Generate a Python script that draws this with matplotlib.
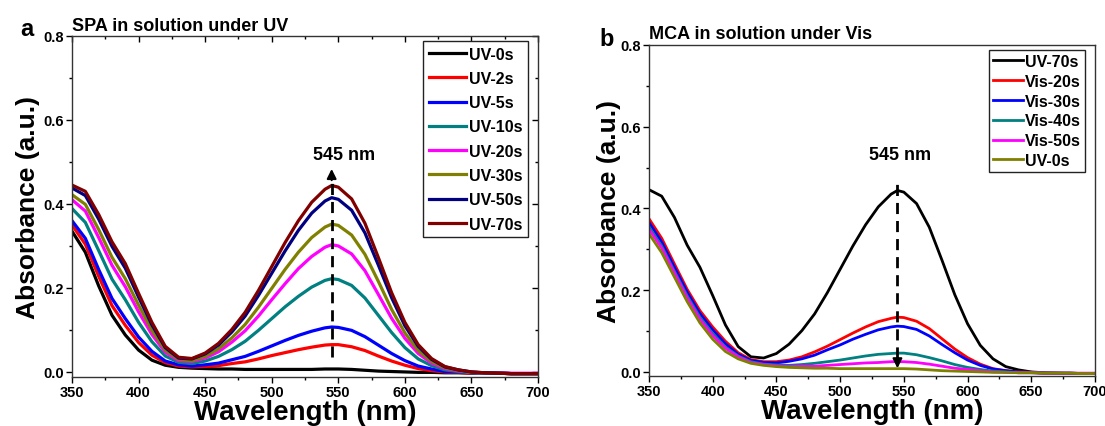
import matplotlib
matplotlib.use("Agg")
import matplotlib.pyplot as plt
from matplotlib.ticker import MultipleLocator

plt.rcParams['font.family'] = ['Liberation Sans', 'DejaVu Sans']
plt.rcParams['font.weight'] = 'bold'

# wavelength grid (nm)
wl = [350, 360, 370, 380, 390, 400, 410, 420, 430, 440, 450, 460, 470, 480, 490,
      500, 510, 520, 530, 540, 545, 550, 560, 570, 580, 590, 600, 610, 620, 630,
      640, 650, 660, 670, 680, 690, 700]

# panel a: SPA under UV
uv_0s = [.335, .285, .205, .135, .088, .052, .028, .016, .011, .009, .008, .007, .007, .006, .006,
         .006, .006, .006, .006, .007, .007, .007, .006, .004, .002, .001, .000, -.001, -.001, -.002,
         -.002, -.003, -.003, -.003, -.004, -.004, -.004]
uv_2s = [.350, .304, .228, .158, .111, .070, .040, .022, .014, .012, .013, .015, .020, .024, .031,
         .039, .046, .053, .059, .064, .065, .065, .060, .051, .038, .026, .016, .008, .003, .000,
         -.001, -.003, -.003, -.003, -.004, -.004, -.004]
uv_5s = [.360, .318, .244, .175, .127, .083, .049, .026, .017, .014, .017, .021, .029, .037, .049,
         .062, .075, .087, .097, .105, .107, .106, .099, .084, .064, .044, .027, .014, .007, .001,
         .000, -.002, -.003, -.003, -.004, -.004, -.004]
uv_10s = [.389, .356, .289, .221, .172, .118, .072, .038, .023, .020, .026, .037, .053, .073, .099,
          .127, .155, .180, .202, .218, .222, .220, .206, .176, .135, .094, .058, .031, .015, .005,
          .001, -.002, -.003, -.003, -.004, -.004, -.004]
uv_20s = [.410, .383, .320, .254, .203, .143, .089, .047, .027, .025, .033, .048, .071, .098, .133,
          .172, .210, .246, .275, .297, .303, .300, .281, .241, .185, .128, .080, .044, .021, .008,
          .003, -.001, -.002, -.002, -.003, -.003, -.003]
uv_30s = [.422, .399, .339, .273, .222, .159, .099, .052, .030, .027, .037, .055, .081, .113, .154,
          .199, .244, .285, .320, .345, .352, .349, .326, .280, .216, .149, .093, .051, .025, .010,
          .004, -.001, -.002, -.003, -.004, -.004, -.004]
uv_50s = [.438, .420, .364, .299, .247, .178, .112, .058, .033, .031, .043, .064, .095, .133, .182,
          .235, .288, .337, .378, .407, .415, .411, .385, .331, .255, .177, .110, .061, .030, .012,
          .005, .000, -.002, -.003, -.004, -.004, -.004]
uv_70s = [.445, .430, .375, .310, .258, .187, .118, .061, .035, .032, .045, .068, .101, .142, .194,
          .251, .308, .360, .404, .435, .444, .440, .412, .354, .273, .189, .118, .065, .032, .013,
          .005, .000, -.002, -.003, -.004, -.004, -.004]

# panel b: MCA under Vis
b_uv_70s = [.446, .430, .378, .310, .256, .187, .115, .062, .037, .034, .045, .068, .101, .142, .194,
            .251, .308, .360, .404, .435, .444, .440, .412, .354, .273, .189, .118, .065, .032, .013,
            .005, .000, -.002, -.003, -.004, -.004, -.004]
vis_20s = [.375, .327, .264, .202, .150, .110, .075, .047, .030, .025, .025, .029, .037, .049, .063,
           .079, .095, .110, .123, .131, .134, .133, .124, .106, .081, .056, .035, .019, .008, .003,
           .000, -.001, -.003, -.003, -.003, -.004, -.004]
vis_30s = [.366, .318, .256, .195, .143, .103, .069, .043, .028, .023, .022, .026, .032, .041, .054,
           .066, .080, .092, .103, .110, .112, .111, .104, .088, .067, .047, .029, .016, .007, .003,
           .000, -.001, -.003, -.003, -.003, -.004, -.004]
vis_40s = [.355, .308, .246, .186, .134, .094, .061, .039, .025, .019, .017, .016, .018, .021, .025,
           .029, .034, .039, .043, .045, .046, .046, .042, .035, .027, .018, .011, .006, .002, .000,
           -.002, -.002, -.003, -.003, -.003, -.004, -.004]
vis_50s = [.349, .303, .242, .181, .129, .089, .058, .037, .023, .018, .015, .013, .014, .014, .016,
           .018, .020, .022, .023, .025, .025, .025, .023, .019, .014, .009, .006, .003, .000, -.001,
           -.002, -.002, -.003, -.003, -.003, -.003, -.003]
b_uv_0s = [.338, .292, .232, .172, .120, .080, .050, .032, .021, .016, .013, .011, .010, .009, .009,
           .008, .008, .008, .008, .008, .008, .008, .007, .005, .003, .002, .001, .000, -.001, -.001,
           -.002, -.002, -.003, -.003, -.003, -.004, -.004]

labels_a = ["UV-0s", "UV-2s", "UV-5s", "UV-10s", "UV-20s", "UV-30s", "UV-50s", "UV-70s"]
series_a = [uv_0s, uv_2s, uv_5s, uv_10s, uv_20s, uv_30s, uv_50s, uv_70s]
colors_a = ["#000000", "#ff0000", "#0000ff", "#008080", "#ff00ff", "#808000", "#000080", "#800000"]

labels_b = ["UV-70s", "Vis-20s", "Vis-30s", "Vis-40s", "Vis-50s", "UV-0s"]
series_b = [b_uv_70s, vis_20s, vis_30s, vis_40s, vis_50s, b_uv_0s]
colors_b = ["#000000", "#ff0000", "#0000ff", "#008080", "#ff00ff", "#808000"]

fig = plt.figure(figsize=(11.05, 4.27), dpi=100)
ax1 = fig.add_axes([0.0652, 0.1148, 0.4217, 0.7986])
ax2 = fig.add_axes([0.5873, 0.1171, 0.4036, 0.7752])


def style(ax, ylo):
    ax.set_xlim(350, 700)
    ax.set_ylim(ylo, 0.8)
    ax.xaxis.set_major_locator(MultipleLocator(50))
    ax.xaxis.set_minor_locator(MultipleLocator(25))
    ax.yaxis.set_major_locator(MultipleLocator(0.2))
    ax.yaxis.set_minor_locator(MultipleLocator(0.1))
    ax.yaxis.set_major_formatter(lambda v, p: f"{v:.1f}")
    ax.tick_params(which='major', direction='out', length=4, width=1, labelsize=10.5, pad=2)
    ax.tick_params(which='minor', direction='out', length=2.5, width=1)
    for lab in ax.get_xticklabels() + ax.get_yticklabels():
        lab.set_fontweight('bold')
    for s in ax.spines.values():
        s.set_color('#333333')
        s.set_linewidth(1)


# panel a
for y, lab, c in zip(series_a, labels_a, colors_a):
    ax1.plot(wl, y, color=c, lw=2.3, label=lab, solid_joinstyle='round')
style(ax1, -0.012)
# small inward ticks on top and right, as in the original
ax1.tick_params(which='both', top=True, right=True)
for tl in ax1.xaxis.get_ticklines(minor=False)[1::2] + ax1.xaxis.get_ticklines(minor=True)[1::2]:
    tl.set_marker(3)
for tl in ax1.yaxis.get_ticklines(minor=False)[1::2] + ax1.yaxis.get_ticklines(minor=True)[1::2]:
    tl.set_marker(0)
ax1.plot([545, 545], [0.035, 0.455], color='k', lw=2, linestyle=(0, (4, 2.5)))
ax1.annotate('', xy=(545, 0.49), xytext=(545, 0.45),
             arrowprops=dict(arrowstyle='-|>', color='k', lw=1.5, mutation_scale=14))
ax1.text(554, 0.498, "545 nm", ha='center', va='bottom', fontsize=13, fontweight='bold')
ax1.set_xlabel("Wavelength (nm)", fontsize=20, fontweight='bold', labelpad=-0.5)
ax1.set_ylabel("Absorbance (a.u.)", fontsize=19, fontweight='bold', labelpad=2)
leg = ax1.legend(loc='upper right', bbox_to_anchor=(0.9785, 0.985), borderaxespad=0,
                 fontsize=11.5, handlelength=2.3, handletextpad=0.2, labelspacing=0.58,
                 borderpad=0.35, fancybox=False, edgecolor='#222222', framealpha=1)
leg.get_frame().set_linewidth(1)
for t in leg.get_texts():
    t.set_fontweight('bold')
ax1.text(-0.112, 1.023, "a", transform=ax1.transAxes, fontsize=17, fontweight='bold', va='center')
ax1.text(0.0, 1.006, "SPA in solution under UV", transform=ax1.transAxes,
         fontsize=13, fontweight='bold', va='bottom')

# panel b
for y, lab, c in zip(series_b, labels_b, colors_b):
    ax2.plot(wl, y, color=c, lw=2.0, label=lab, solid_joinstyle='round')
style(ax2, -0.01)
ax2.plot([545, 545], [0.035, 0.465], color='k', lw=2, linestyle=(0, (4, 2.5)))
ax2.annotate('', xy=(545, 0.002), xytext=(545, 0.04),
             arrowprops=dict(arrowstyle='-|>', color='k', lw=1.5, mutation_scale=14))
ax2.text(547, 0.51, "545 nm", ha='center', va='bottom', fontsize=13, fontweight='bold')
ax2.set_xlabel("Wavelength (nm)", fontsize=20, fontweight='bold', labelpad=-0.5)
ax2.set_ylabel("Absorbance (a.u.)", fontsize=19, fontweight='bold', labelpad=-1)
leg2 = ax2.legend(loc='upper right', bbox_to_anchor=(0.978, 0.985), borderaxespad=0,
                  fontsize=11.5, handlelength=1.9, handletextpad=0.15, labelspacing=0.3,
                  borderpad=0.25, fancybox=False, edgecolor='#222222', framealpha=1)
leg2.get_frame().set_linewidth(1)
for t in leg2.get_texts():
    t.set_fontweight('bold')
ax2.text(-0.11, 1.02, "b", transform=ax2.transAxes, fontsize=17, fontweight='bold', va='center')
ax2.text(0.0, 1.008, "MCA in solution under Vis", transform=ax2.transAxes,
         fontsize=13, fontweight='bold', va='bottom')

fig.savefig("out.png", dpi=100)
